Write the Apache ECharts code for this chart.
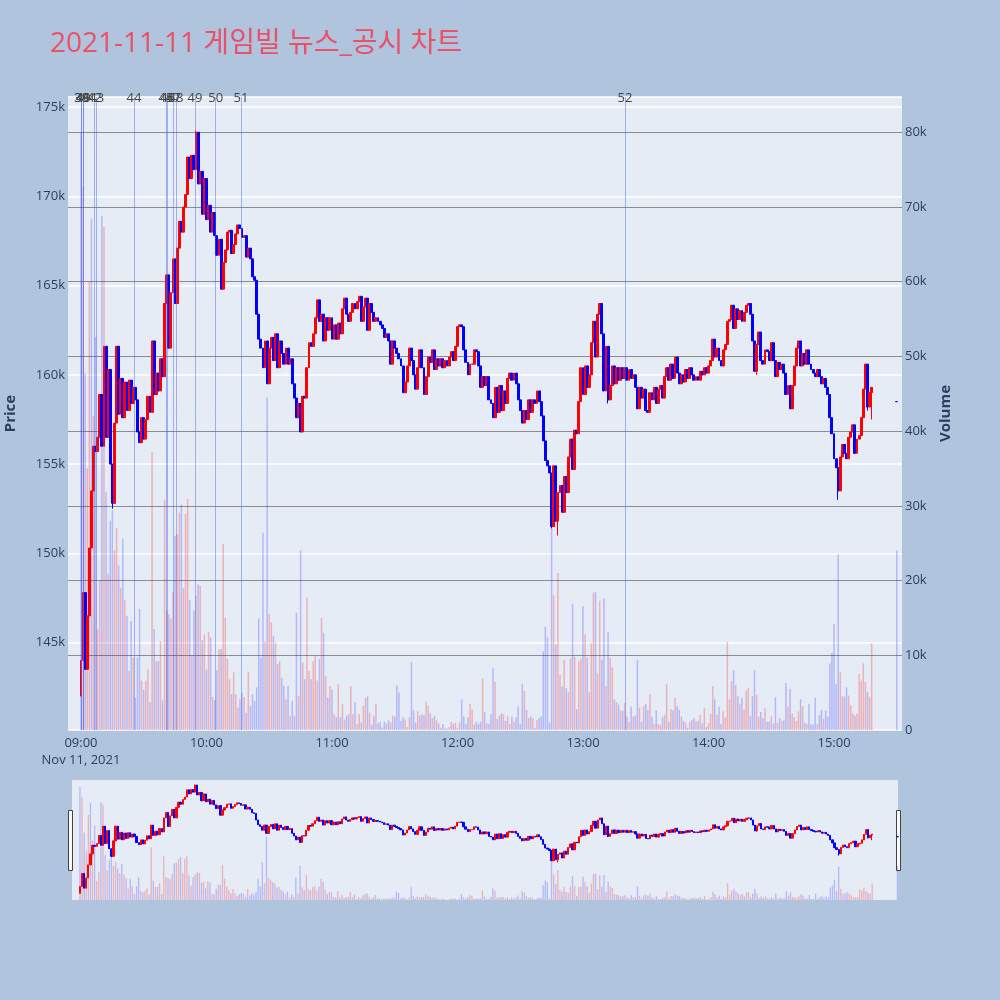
<!DOCTYPE html>
<html><head><meta charset="utf-8">
<script src="https://cdn.jsdelivr.net/npm/echarts@6/dist/echarts.min.js"></script>
<style>html,body{margin:0;padding:0;background:#b0c4de}#c{width:1000px;height:1000px}</style>
</head><body><div id="c"></div>
<script>
// minute index 0 = 09:00 ; prices in thousand won
const firstOpen = 142.0;
const closes = [
144.0,147.8,143.5,146.5,150.3,153.5,156.0,155.7,156.5,158.9,
156.0,161.6,156.5,160.3,155.0,152.8,157.3,161.6,157.8,159.8,
157.6,159.6,158.0,159.7,158.4,159.3,158.6,156.8,156.2,157.6,
156.4,157.5,158.8,157.9,161.9,158.9,160.1,159.1,160.9,159.9,
164.0,165.6,161.5,164.6,166.5,164.0,167.1,168.6,168.0,169.4,
170.1,172.2,171.0,172.3,171.5,173.6,170.7,171.4,169.0,171.0,
168.7,169.5,168.0,169.1,167.8,166.7,167.6,164.8,166.3,167.0,
168.0,168.1,166.8,167.3,167.9,168.4,168.2,167.7,167.8,166.6,
167.1,166.5,165.5,165.3,163.4,162.0,161.5,160.4,161.9,159.5,
161.5,162.1,160.8,162.3,160.4,161.9,161.2,160.6,161.5,160.6,
160.9,159.5,158.7,157.6,158.4,156.8,158.8,158.7,160.4,161.8,
161.6,162.3,163.2,164.2,163.0,163.4,161.9,163.2,162.5,163.2,
162.0,162.8,162.0,162.9,162.3,163.7,164.3,163.4,163.0,163.5,
164.0,163.7,164.1,164.4,163.0,163.8,164.3,162.5,164.0,163.5,
163.0,163.2,163.0,162.8,162.6,162.1,162.3,161.9,160.6,161.9,
161.5,161.2,160.9,160.5,159.0,159.6,160.5,161.5,160.8,160.0,
159.2,160.4,161.4,160.4,158.9,159.9,161.0,160.7,161.4,160.3,
160.9,160.5,160.9,160.4,160.8,160.5,161.0,161.3,160.8,161.6,
162.7,162.8,162.7,161.4,160.7,160.0,160.6,160.6,161.4,161.3,
160.5,159.3,159.9,159.4,159.9,158.6,158.4,157.6,159.3,157.9,
159.4,158.0,159.1,158.4,159.8,160.1,159.7,160.1,159.5,158.6,
158.0,157.3,158.0,157.5,158.6,157.9,158.6,158.4,159.1,158.5,
157.7,156.3,155.2,154.9,154.5,151.5,154.9,151.8,153.4,153.8,
152.3,154.3,153.4,155.4,156.4,154.7,156.9,156.7,158.5,160.4,
158.9,160.5,159.3,160.0,161.8,163.0,161.0,163.4,164.0,162.3,
159.1,161.6,158.6,159.4,160.5,159.5,160.4,159.7,160.4,159.8,
160.4,159.7,160.3,159.8,160.0,159.3,158.1,159.3,158.7,159.2,
158.0,157.9,159.0,158.6,159.3,158.4,159.2,159.4,158.7,159.9,
160.4,159.7,160.6,159.8,161.0,160.1,159.5,160.0,159.6,160.3,
159.8,160.4,160.0,159.7,159.9,159.7,160.2,160.0,160.4,160.1,
160.5,160.8,162.0,161.0,161.5,160.8,160.5,161.4,161.7,163.0,
163.1,163.9,162.6,163.7,163.1,163.6,163.0,163.5,163.9,164.0,
163.4,161.9,160.2,161.7,162.4,160.8,160.6,161.4,161.3,160.8,
161.8,160.8,159.9,160.7,160.3,160.6,160.1,158.9,159.4,158.1,
159.4,160.5,161.5,161.9,160.5,161.2,160.6,161.4,160.6,160.3,
160.1,159.9,160.3,159.9,159.5,159.8,159.3,158.9,157.6,156.7,
155.3,154.8,153.5,155.4,156.1,155.6,155.3,156.5,156.8,157.2,
155.6,156.4,156.6,157.6,159.2,160.6,158.2,159.0,159.3
];
// notable wick extremes (minute index -> price)
const lowWicks = {15:152.5, 225:151.4, 228:151.0, 252:158.4, 323:160.0, 362:153.0, 376:158.0, 378:157.5};
const highWicks = {41:165.6, 55:173.7, 248:164.0};
// volume in thousand shares
const volumes = [
80,72.7,47.7,35,60,68.4,42,52.6,13.5,20,
68.8,67.3,31.8,20.9,28,29.4,24,27,22,19,
25.6,17.4,15.3,7.9,14.6,9.7,4.3,9.7,16.2,6.6,
5.4,6.6,8.1,3.7,37.2,13.5,9.2,9.2,11.9,4,
30.8,16,15.5,14.9,18.5,26,26.2,29.1,30.2,19,
28.9,30.9,17.4,10,16,18,19.5,19.3,12,12.8,
8.1,13.1,12.4,4.4,4,8,10.8,10.8,24.9,15,
9.5,6.8,4.8,7.7,4.8,3,4.1,5,4.4,2.3,
7.8,3.2,4.8,3.9,5.7,14.9,9.7,26.4,11.8,44.5,
15.5,14.4,12.6,11.7,8.8,9.2,7,5.9,4.1,5.9,
1.9,3.9,1.9,15.7,4.5,24,9,6.8,17.7,7.9,
6.8,9.2,9.9,6.6,9.5,15,13,7.2,4.3,5.9,
5.4,2.1,1.7,6.1,1.7,3.5,1.4,1.9,2.1,5.9,
2.1,3.7,0.8,2.1,1,3.2,4.3,4.5,2.3,
0.7,1.9,3.5,0.9,1.1,0.3,1.1,0.9,1.3,1.0,
1.9,1.8,6.0,5.0,1.2,1.7,1.4,0.4,1.7,9.1,
2.6,1.0,2.5,1.9,2.1,2.0,3.8,3.2,2.2,1.6,
1.9,1.3,0.9,0.3,0.8,0.3,0.2,0.4,1.1,0.8,
1.0,0.3,1.0,4.1,1.8,0.8,1.7,3.5,2.7,0.7,
1.1,0.8,1.1,6.9,2.4,0.9,0.8,2.1,8.3,6.5,
1.5,1.9,2.2,2.1,1.2,1.9,0.8,1.8,1.1,1.7,
3.1,0.8,6.2,5.2,2.7,1.6,1.8,1.6,0.3,1.3,
1.6,1.8,10.5,13.8,12.4,1.0,27,18.0,11.4,21.0,
7.4,5.8,9.4,5.6,5.1,9.6,16.9,9.8,2.8,9.2,
9.6,16.6,12.8,9.7,5.1,11.6,18.4,18.5,7.6,17.3,
9.4,17.6,5.9,13.1,9.7,8.4,4.1,3.7,3.4,2.6,
2.6,3.6,1.8,1.1,3.1,1.8,1.9,9.4,3.0,1.1,
3.2,3.5,2.7,4.8,1.8,0.8,2.6,0.8,0.7,1.7,
2.0,6.2,1.1,2.8,2.6,4.3,3.2,2.7,1.8,1.2,
1.0,0.3,1.1,1.3,1.6,1.2,1.2,2.0,0.9,2.9,
0.4,0.9,2.2,5.9,4.1,2.0,3.1,0.8,2.5,1.7,
11.8,4.1,6.5,8.0,6.0,4.5,3.5,4.3,2.7,5.3,
5.6,1.9,4.5,8.0,4.7,1.8,2.4,1.6,2.9,1.1,
1.1,1.9,0.9,4.4,1.0,1.6,1.2,1.3,6.3,3.1,
5.5,2.2,1.7,1.2,2.5,4.1,3.2,1.0,0.8,3.5,
0.8,0.7,4.3,0.8,2.0,2.7,1.5,2.6,1.8,8.9,
10.3,14.2,6.2,23.5,7.7,4.5,4.5,5.7,4.6,3.3,
2.2,1.9,2.2,7.5,6.6,8.9,6.4,5.1,4.4,11.6
];
// minutes whose volume bar is shown as a down (blue) bar despite the candle
const downVolumeMinutes = [0, 5];
// closing auction 15:30
const closeAuction = {minute: 390, price: 158.5, volume: 24};
// news / disclosure markers (minute offsets from 09:00)
const newsIds = ['38','39','40','41','42','43','44','45','46','47','48','49','50','51','52'];
const newsMinutes = [0.3,0.35,1.1,1.15,6.4,7.5,25.3,40.6,41.4,44.1,45.4,54.5,64.4,76.5,260.1];
const timeTicks = [0,60,120,180,240,300,360];

const UP = '#ff0000', DOWN = '#0000ff';
const VUP = 'rgba(255,0,0,0.25)', VDOWN = 'rgba(0,0,255,0.22)';
const candles = [], vols = [];
for (let i = 0; i < closes.length; i++) {
  const o = i === 0 ? firstOpen : closes[i-1];
  const c = closes[i];
  let l = Math.min(o, c), h = Math.max(o, c);
  if (lowWicks[i] != null) l = Math.min(l, lowWicks[i]);
  if (highWicks[i] != null) h = Math.max(h, highWicks[i]);
  candles.push([i, o*1000, c*1000, l*1000, h*1000]);
  const up = c >= o && downVolumeMinutes.indexOf(i) < 0;
  if (volumes[i] != null) vols.push({value:[i, volumes[i]*1000], itemStyle:{color: up ? VUP : VDOWN}});
}
const ca = closeAuction;
candles.push([ca.minute, ca.price*1000, ca.price*1000, ca.price*1000, ca.price*1000]);
vols.push({value:[ca.minute, ca.volume*1000], itemStyle:{color: VDOWN}});

const fmtTime = v => { const h = 9 + Math.floor(v/60), m = Math.round(v % 60); return String(h).padStart(2,'0') + ':' + String(m).padStart(2,'0'); };
const txt = '#2a3f5f';
const font = "'Open Sans', 'Noto Sans CJK KR', sans-serif";

const chart = echarts.init(document.getElementById('c'), null, {renderer:'canvas'});
chart.setOption({
  animation: false,
  backgroundColor: '#b0c4de',
  textStyle: {fontFamily: font},
  title: {
    text: '2021-11-11 게임빌 뉴스_공시 차트', left: 50, top: 30, padding: 0,
    textStyle: {fontSize: 28, fontWeight: 'normal', color: '#ea5068', fontFamily: font}
  },
  grid: [
    {left: 68, right: 98, top: 97, bottom: 270, show: true, backgroundColor: '#e5ecf6', borderWidth: 0, outerBoundsMode: 'none', containLabel: false},
    {left: 72, right: 102, top: 780, height: 120, show: true, backgroundColor: '#e5ecf6', borderWidth: 0, outerBoundsMode: 'none', containLabel: false}
  ],
  xAxis: [
    {type: 'value', gridIndex: 0, min: -6.2, max: 392.5,
     axisLine: {show: false}, axisTick: {show: false}, splitLine: {show: false},
     axisLabel: {customValues: timeTicks, color: txt, fontSize: 13, margin: 5, lineHeight: 17,
       formatter: v => v === 0 ? '09:00\nNov 11, 2021' : fmtTime(v)}},
    {type: 'value', gridIndex: 1, min: -3.8, max: 390.3, show: false}
  ],
  yAxis: [
    {type: 'value', gridIndex: 0, position: 'left', min: 140100, max: 175570, splitNumber: 7,
     axisLine: {show: false}, axisTick: {show: false},
     splitLine: {lineStyle: {color: '#ffffff', width: 1.5}},
     axisLabel: {color: txt, fontSize: 13, margin: 3, showMinLabel: false, showMaxLabel: false,
       formatter: v => (v/1000) + 'k'},
     name: 'Price', nameLocation: 'middle', nameGap: 50, nameRotate: 90,
     nameTextStyle: {color: txt, fontSize: 15, fontWeight: 'bold'}},
    {type: 'value', gridIndex: 0, position: 'right', min: 0, max: 84700, splitNumber: 8,
     axisLine: {show: false}, axisTick: {show: false},
     splitLine: {showMinLine: false, showMaxLine: false, lineStyle: {color: '#8c8c8c', width: 1}},
     axisLabel: {color: txt, fontSize: 13, margin: 3, showMaxLabel: false,
       formatter: v => v === 0 ? '0' : (v/1000) + 'k'},
     name: 'Volume', nameLocation: 'middle', nameGap: 36, nameRotate: 90,
     nameTextStyle: {color: txt, fontSize: 15, fontWeight: 'bold'}},
    {type: 'value', gridIndex: 1, min: 140050, max: 175060, show: false},
    {type: 'value', gridIndex: 1, min: 0, max: 84700, show: false}
  ],
  series: [
    {type: 'bar', xAxisIndex: 0, yAxisIndex: 1, data: vols, barWidth: 1.5, z: 2, silent: true},
    {type: 'line', xAxisIndex: 0, yAxisIndex: 0, data: [], z: 3, silent: true,
     markLine: {silent: true, symbol: ['none','none'], animation: false,
       lineStyle: {color: 'rgba(70,100,235,0.45)', width: 1, type: 'solid'},
       label: {show: true, position: 'end', formatter: '{b}', color: '#444', fontSize: 13, distance: -8},
       data: newsMinutes.map((m, k) => ({xAxis: m, name: newsIds[k]}))}},
    {type: 'candlestick', xAxisIndex: 0, yAxisIndex: 0, data: candles, encode: {x: 0, y: [1,2,3,4]},
     barWidth: 2.4, z: 4, silent: true,
     itemStyle: {color: UP, color0: DOWN, borderColor: UP, borderColor0: DOWN, borderWidth: 1}},
    {type: 'bar', xAxisIndex: 1, yAxisIndex: 3, data: vols, barWidth: 1.3, z: 2, silent: true},
    {type: 'candlestick', xAxisIndex: 1, yAxisIndex: 2, data: candles, encode: {x: 0, y: [1,2,3,4]},
     barWidth: 1.8, z: 4, silent: true,
     itemStyle: {color: UP, color0: DOWN, borderColor: UP, borderColor0: DOWN, borderWidth: 1}}
  ],
  graphic: [
    {type: 'rect', left: 68, top: 810, shape: {width: 4, height: 60}, style: {fill: '#f8f8f8', stroke: '#444', lineWidth: 1}},
    {type: 'rect', left: 896, top: 810, shape: {width: 4, height: 60}, style: {fill: '#f8f8f8', stroke: '#444', lineWidth: 1}}
  ]
});
</script></body></html>
